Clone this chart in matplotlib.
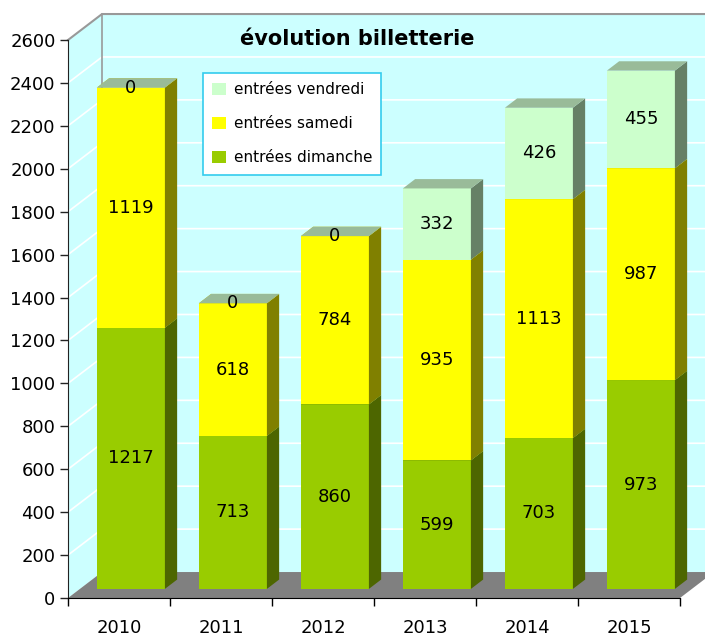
import numpy as np
import matplotlib
matplotlib.use("Agg")
import matplotlib.pyplot as plt
from matplotlib.patches import Polygon, Patch

# data
years = ["2010", "2011", "2012", "2013", "2014", "2015"]
dimanche = [1217, 713, 860, 599, 703, 973]
samedi = [1119, 618, 784, 935, 1113, 987]
vendredi = [0, 0, 0, 332, 426, 455]
series_names = ["entrées dimanche", "entrées samedi", "entrées vendredi"]

# colours: front, side, top
colors = {
    "entrées dimanche": ("#99CC00", "#4D6600", "#7A9E00"),
    "entrées samedi": ("#FFFF00", "#808000", "#CCCC00"),
    "entrées vendredi": ("#CCFFCC", "#668066", "#99BB99"),
}
WALL = "#CCFFFF"
FLOOR = "#808080"

Y_MAX = 2600
DX = 1 / 3      # depth of the 3d box, in category units
DY = 121        # depth of the 3d box, in value units
F0 = 0.35       # bar front position inside the depth
FD = 0.36       # bar depth
BAR_W = 2 / 3

fig = plt.figure(figsize=(7.05, 6.37), dpi=100)
ax = fig.add_axes([68 / 705, 39 / 637, 612 / 705, 558 / 637])
ax.set_xlim(-0.5, len(years) - 0.5)
ax.set_ylim(0, Y_MAX)
ax.patch.set_visible(False)

x0, x1 = -0.5, len(years) - 0.5


def poly(pts, fc, ec="none", lw=0, z=1):
    ax.add_patch(Polygon(pts, closed=True, facecolor=fc, edgecolor=ec,
                         linewidth=lw, zorder=z, clip_on=False))


# walls and floor
poly([(x0, 0), (x0, Y_MAX), (x0 + DX, Y_MAX + DY), (x0 + DX, DY)], WALL, z=0)
poly([(x0 + DX, DY), (x1 + DX, DY), (x1 + DX, Y_MAX + DY), (x0 + DX, Y_MAX + DY)], WALL, z=0)
poly([(x0, 0), (x1, 0), (x1 + DX, DY), (x0 + DX, DY)], FLOOR, z=0.5)

grid_vals = np.arange(200, Y_MAX + 1, 200)
for v in grid_vals[:-1]:
    ax.plot([x0, x0 + DX, x1 + DX], [v, v + DY, v + DY], color="white",
            lw=1.2, zorder=0.3, clip_on=False)
ax.plot([x0, x0 + DX, x1 + DX], [Y_MAX, Y_MAX + DY, Y_MAX + DY], color="#999999",
        lw=1.5, zorder=0.4, clip_on=False)
ax.plot([x0 + DX, x0 + DX], [DY, Y_MAX + DY], color="#999999", lw=1.2,
        zorder=0.4, clip_on=False)

# bars
bottoms = np.zeros(len(years))
for name, vals in zip(series_names, [dimanche, samedi, vendredi]):
    front, side, top = colors[name]
    for i, v in enumerate(vals):
        b = bottoms[i]
        xl = i - BAR_W / 2 + F0 * DX
        xr = xl + BAR_W
        yb = b + F0 * DY
        yt = b + v + F0 * DY
        dx, dy = FD * DX, FD * DY
        poly([(xl, yb), (xr, yb), (xr, yt), (xl, yt)], front, z=2)
        poly([(xr, yb), (xr + dx, yb + dy), (xr + dx, yt + dy), (xr, yt)], side, z=2)
        poly([(xl, yt), (xr, yt), (xr + dx, yt + dy), (xl + dx, yt + dy)], top, z=2)
        ax.text(i + F0 * DX, b + v / 2 + F0 * DY, str(v), ha="center", va="center",
                fontsize=13, zorder=5)
    bottoms += np.array(vals)

# axes
for s in ["top", "right"]:
    ax.spines[s].set_visible(False)
ax.spines["left"].set_color("#222222")
ax.spines["bottom"].set_color("black")
ax.spines["left"].set_zorder(3)
ax.spines["bottom"].set_zorder(3)
ax.set_yticks(np.arange(0, Y_MAX + 1, 200))
ax.tick_params(axis="y", length=6, width=1, pad=3, labelsize=13, colors="#222222",
               labelcolor="black")
ax.set_xticks(np.arange(-0.5, len(years)), labels=[""] * (len(years) + 1))
ax.set_xticks(np.arange(len(years)), labels=years, minor=True)
ax.tick_params(axis="x", which="major", length=6, width=1)
ax.tick_params(axis="x", which="minor", length=0, pad=15, labelsize=13)

fig.text(357 / 705, 1 - 39 / 637, "évolution billetterie", ha="center", va="center",
         fontsize=15, fontweight="bold")

handles = [Patch(facecolor=colors[n][0], edgecolor="none") for n in series_names[::-1]]
leg = fig.legend(handles, series_names[::-1], loc="upper left",
                 bbox_to_anchor=(203 / 705, 1 - 73 / 637), fontsize=11,
                 frameon=True, fancybox=False, framealpha=1, facecolor="white",
                 edgecolor="#33CCEE", labelspacing=1.25, handlelength=0.9,
                 handleheight=0.9, handletextpad=0.5, borderpad=0.6,
                 borderaxespad=0)
leg.get_frame().set_linewidth(1.2)

fig.savefig("out.png", dpi=100)
